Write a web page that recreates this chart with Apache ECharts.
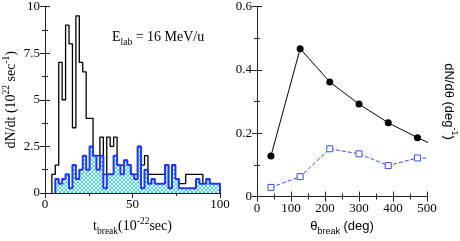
<!DOCTYPE html>
<html><head><meta charset="utf-8">
<script src="https://cdn.jsdelivr.net/npm/echarts@6/dist/echarts.min.js"></script>
<style>html,body{margin:0;padding:0;background:#fff}#c{width:460px;height:241px}</style>
</head><body><div id="c"></div>
<script>
// ---- data ----
const tRange = [0, 100];
const binCount = 51;
const totalCounts = [0,0,1.0,1.5,7.0,5.0,9.0,8.0,3.5,9.5,7.0,6.5,4.0,4.0,2.0,2.0,3.0,1.0,3.0,2.5,3.0,1.5,1.5,1.75,1.5,1.0,1.0,2.5,1.5,2.0,1.0,1.0,1.0,1.0,1.0,1.5,0.25,1.5,0.75,0.5,0.5,1.0,1.0,1.0,1.0,1.0,0.5,0.75,0.5,0.5,0.5];
const blueCounts  = [0,0,0,0.75,0.5,0.75,1.0,0.25,1.5,0.75,1.25,2.0,1.25,2.5,2.0,1.25,2.0,0.25,1.0,1.0,2.0,1.5,1.0,1.75,1.5,1.0,0.75,2.5,0.25,1.25,0.5,0.75,0.5,0.5,0.5,1.5,0.25,1.5,0.75,0.25,0.25,0.25,0.25,0.25,0.75,0.5,0.5,0.75,0.5,0.5,0.5];
const thetaBreak = [41,127,214,300,386,472,558];
const dNdThetaTotal = [0.128,0.467,0.362,0.292,0.233,0.186,0.144];
const dNdThetaBlue  = [0.029,0.063,0.151,0.135,0.098,0.122,0.120];
const leftYTicks = [0, 2.5, 5, 7.5, 10];
const leftXTicks = [0, 50, 100];
const rightYTicks = [0, 0.2, 0.4, 0.6];
const rightXTicks = [0, 100, 200, 300, 400, 500];

// ---- helpers ----
function stepData(counts) {
  const w = (tRange[1] - tRange[0]) / binCount;
  const first = counts.findIndex(v => v > 0);
  const pts = [[tRange[0] + first * w, 0]];
  for (let k = first; k < counts.length; k++) pts.push([tRange[0] + k * w, counts[k]]);
  pts.push([tRange[1], counts[counts.length - 1]]);
  pts.push([tRange[1], 0]);
  return pts;
}
function pairs(xs, ys) { return xs.map((x, i) => [x, ys[i]]); }

const hatch = document.createElement('canvas');
hatch.width = 4; hatch.height = 4;
(function(){
  const g = hatch.getContext('2d');
  g.fillStyle = '#ffffff'; g.fillRect(0,0,4,4);
  g.fillStyle = '#3fdede';
  for (let i = 0; i < 4; i++) { g.fillRect(i, i, 1, 1); g.fillRect(3 - i, i, 1, 1); }
})();

const SERIF = 'Liberation Serif';
const SANS = 'Liberation Sans';
const frame = { show: true, lineStyle: { color: '#222', width: 1 } };
function axis(extra, ticks, labels, fontFamily) {
  return Object.assign({
    type: 'value', min: ticks[0], max: ticks[ticks.length - 1],
    interval: ticks[1] - ticks[0],
    axisLine: frame,
    axisTick: { show: true, inside: true, length: 5, lineStyle: { color: '#222' } },
    minorTick: { show: true, splitNumber: 2, length: 3, lineStyle: { color: '#222' } },
    splitLine: { show: false },
    axisLabel: labels ? { show: true, color: '#000', fontFamily: fontFamily, fontSize: 13, margin: 5 } : { show: false }
  }, extra);
}

const richSerif = {
  a: { fontFamily: SERIF, fontSize: 14, color: '#000', lineHeight: 20, verticalAlign: 'middle' },
  sup: { fontFamily: SERIF, fontSize: 9.5, color: '#000', lineHeight: 10, verticalAlign: 'top' },
  sub: { fontFamily: SERIF, fontSize: 9.5, color: '#000', lineHeight: 10, verticalAlign: 'bottom' }
};
const richSans = {
  a: { fontFamily: SANS, fontSize: 13, color: '#000', lineHeight: 20, verticalAlign: 'middle' },
  sup: { fontFamily: SANS, fontSize: 9, color: '#000', lineHeight: 10, verticalAlign: 'top' },
  sub: { fontFamily: SANS, fontSize: 9, color: '#000', lineHeight: 10, verticalAlign: 'bottom' }
};

const chart = echarts.init(document.getElementById('c'), null, { renderer: 'canvas' });
chart.setOption({
  animation: false,
  grid: [
    { left: 42, top: 6, width: 178, height: 194 },
    { left: 257, top: 6, width: 176, height: 194 }
  ],
  xAxis: [
    axis({ gridIndex: 0, position: 'bottom', name: '{a|t}{sub|break}{a|(10}{sup|-22}{a|sec)}',
           nameLocation: 'middle', nameGap: 23, nameTextStyle: { rich: richSerif } }, leftXTicks, true, SERIF),
    axis({ gridIndex: 0, position: 'top' }, leftXTicks, false),
    axis({ gridIndex: 1, position: 'bottom', name: '{a|θ}{sub|break}{a| (deg)}',
           nameLocation: 'middle', nameGap: 19, nameTextStyle: { rich: richSans } }, rightXTicks, true, SERIF),
    axis({ gridIndex: 1, position: 'top' }, rightXTicks, false)
  ],
  yAxis: [
    axis({ gridIndex: 0, position: 'left', name: '{a|dN/dt (10}{sup|22}{a| sec}{sup|-1}{a|)}',
           nameLocation: 'middle', nameRotate: 90, nameGap: 24, nameTextStyle: { rich: richSerif } }, leftYTicks, true, SERIF),
    axis({ gridIndex: 0, position: 'right' }, leftYTicks, false),
    axis({ gridIndex: 1, position: 'left' }, rightYTicks, true, SERIF),
    axis({ gridIndex: 1, position: 'right', name: '{a|dN/dθ (deg}{sup|-1}{a|)}',
           nameLocation: 'middle', nameRotate: -90, nameGap: 12, nameTextStyle: { rich: richSans } }, rightYTicks, false)
  ],
  series: [
    { type: 'line', xAxisIndex: 0, yAxisIndex: 0, step: 'end', symbol: 'none', data: stepData(totalCounts),
      lineStyle: { color: '#000', width: 1.3 }, z: 2 },
    { type: 'line', xAxisIndex: 0, yAxisIndex: 0, step: 'end', symbol: 'none', data: stepData(blueCounts),
      lineStyle: { color: '#1f35ff', width: 2 }, areaStyle: { color: { image: hatch, repeat: 'repeat' }, opacity: 1 }, z: 3 },
    { type: 'line', xAxisIndex: 2, yAxisIndex: 2, data: pairs(thetaBreak, dNdThetaTotal), clip: true,
      symbol: 'circle', symbolSize: 7, itemStyle: { color: '#000' }, lineStyle: { color: '#000', width: 1 } },
    { type: 'line', xAxisIndex: 2, yAxisIndex: 2, data: pairs(thetaBreak, dNdThetaBlue), clip: true,
      symbol: 'rect', symbolSize: 6, itemStyle: { color: '#fff', borderColor: '#3a4cf0', borderWidth: 1 },
      lineStyle: { color: '#3a4cf0', width: 1, type: [4, 2] } }
  ],
  graphic: [
    { type: 'text', left: 112, top: 30,
      style: { text: '{a|E}{sub|lab}{a| = 16 MeV/u}', rich: richSerif } }
  ]
});
</script></body></html>
